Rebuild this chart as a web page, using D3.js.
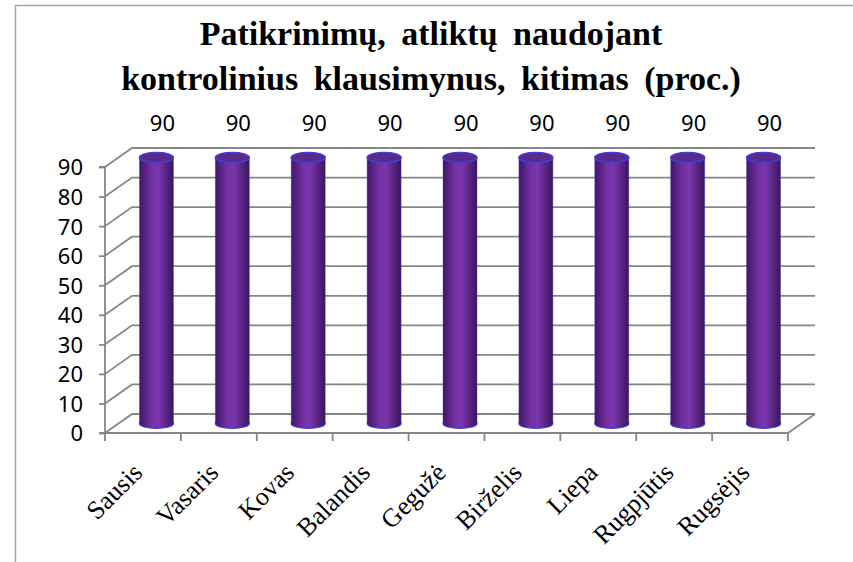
<!DOCTYPE html>
<html>
<head>
<meta charset="utf-8">
<script src="https://cdn.jsdelivr.net/npm/d3@7"></script>
<style>
  body { margin: 0; background: #fff; }
</style>
</head>
<body>
<div id="chart"></div>
<script>
// chart data
var months = ["Sausis", "Vasaris", "Kovas", "Balandis", "Gegužė", "Birželis", "Liepa", "Rugpjūtis", "Rugsėjis"];
var values = [90, 90, 90, 90, 90, 90, 90, 90, 90];
var yTicks = [0, 10, 20, 30, 40, 50, 60, 70, 80, 90];
var titleLines = ["Patikrinimų, atliktų naudojant", "kontrolinius klausimynus, kitimas (proc.)"];

var w = 853;
var h = 562;
var depthX = 27;   // 3d depth offset
var depthY = -19;
var gridColor = "#868686";

var svg = d3.select("#chart")
    .append("svg")
    .attr("width", w)
    .attr("height", h);

// outer frame (only left and top visible)
svg.append("path")
    .attr("d", "M15.5," + h + "V5.5H" + w)
    .attr("fill", "none")
    .attr("stroke", "#a6a6a6")
    .attr("stroke-width", 1.5);

// title
svg.append("g").selectAll("text")
    .data(titleLines)
    .enter()
    .append("text")
    .attr("x", 431)
    .attr("y", function (d, i) { return 45 + i * 45; })
    .attr("text-anchor", "middle")
    .attr("font-family", "'Liberation Serif', 'Times New Roman', serif")
    .attr("font-weight", "bold")
    .attr("font-size", "34px")
    .attr("word-spacing", "7px")
    .attr("fill", "#000")
    .text(function (d) { return d; });

// scales
var xScale = d3.scaleBand()
    .domain(months)
    .range([105, 788]);

var yScale = d3.scaleLinear()
    .domain([0, 90])
    .range([433, 167]);

var grid = svg.append("g");

// side wall diagonals + back wall lines
yTicks.forEach(function (t) {
    var y = yScale(t);
    grid.append("path")
        .attr("d", "M105," + y + "L" + (105 + depthX) + "," + (y + depthY) + "H" + (788 + depthX))
        .attr("fill", "none")
        .attr("stroke", gridColor)
        .attr("stroke-width", 1.8);
});

// floor right edge
grid.append("line")
    .attr("x1", 788).attr("y1", yScale(0))
    .attr("x2", 788 + depthX).attr("y2", yScale(0) + depthY)
    .attr("stroke", gridColor)
    .attr("stroke-width", 1.8);

// Y axis
var yAxis = d3.axisLeft(yScale)
    .tickValues(yTicks)
    .tickSize(6)
    .tickPadding(16);

var yAxisG = svg.append("g")
    .attr("transform", "translate(105,0)")
    .call(yAxis);
yAxisG.select(".domain").attr("stroke", gridColor).attr("stroke-width", 1.8)
    .attr("d", "M-6," + yScale(90) + "H0V" + yScale(0) + "H-6");
yAxisG.selectAll(".tick line").attr("stroke", gridColor).attr("stroke-width", 1.8);
yAxisG.selectAll(".tick text")
    .attr("font-family", "'Noto Sans', sans-serif")
    .attr("font-size", "22px")
    .attr("fill", "#000")
    .attr("dy", "0.36em");

// X axis
var xAxisG = svg.append("g")
    .attr("transform", "translate(0," + yScale(0) + ")");
xAxisG.append("line")
    .attr("x1", 105).attr("x2", 788)
    .attr("stroke", gridColor).attr("stroke-width", 1.8);
xAxisG.selectAll("line.tick")
    .data(d3.range(months.length + 1))
    .enter()
    .append("line")
    .attr("class", "tick")
    .attr("x1", function (i) { return 105 + i * xScale.step(); })
    .attr("x2", function (i) { return 105 + i * xScale.step(); })
    .attr("y1", 0).attr("y2", 8)
    .attr("stroke", gridColor).attr("stroke-width", 1.8);

xAxisG.selectAll("text")
    .data(months)
    .enter()
    .append("text")
    .attr("transform", function (d) {
        var x = xScale(d) + xScale.bandwidth() / 2 + 1;
        return "translate(" + x + ",41) rotate(-45)";
    })
    .attr("text-anchor", "end")
    .attr("font-family", "'Liberation Serif', 'Times New Roman', serif")
    .attr("font-size", "26px")
    .attr("fill", "#000")
    .text(function (d) { return d; });

// cylinder gradient
var defs = svg.append("defs");
var grad = defs.append("linearGradient")
    .attr("id", "cyl")
    .attr("x1", "0%").attr("x2", "100%")
    .attr("y1", "0%").attr("y2", "0%");
grad.append("stop").attr("offset", "0%").attr("stop-color", "#3e1866");
grad.append("stop").attr("offset", "35%").attr("stop-color", "#7330a4");
grad.append("stop").attr("offset", "55%").attr("stop-color", "#7a36ab");
grad.append("stop").attr("offset", "100%").attr("stop-color", "#3a165e");

var rx = 17;
var ry = 5;
var cx = function (d) { return xScale(d) + xScale.bandwidth() / 2 + depthX / 2; };
var midY = function (v) { return yScale(v) + depthY / 2; };

var bars = svg.append("g").selectAll("g")
    .data(months)
    .enter()
    .append("g");

// bottom ellipse
bars.append("ellipse")
    .attr("cx", cx)
    .attr("cy", midY(0))
    .attr("rx", rx)
    .attr("ry", ry)
    .attr("fill", "url(#cyl)")
    .attr("stroke", "#3b3bd8")
    .attr("stroke-width", 1.2);

// body
bars.append("rect")
    .attr("x", function (d) { return cx(d) - rx; })
    .attr("y", function (d, i) { return midY(values[i]); })
    .attr("width", rx * 2)
    .attr("height", function (d, i) { return midY(0) - midY(values[i]); })
    .attr("fill", "url(#cyl)");

// side outlines
bars.append("path")
    .attr("d", function (d, i) {
        var x = cx(d);
        return "M" + (x - rx) + "," + midY(values[i]) + "V" + midY(0) +
            "M" + (x + rx) + "," + midY(values[i]) + "V" + midY(0);
    })
    .attr("stroke", "#4a3ac0")
    .attr("stroke-opacity", 0.5)
    .attr("stroke-width", 0.8);

// top ellipse
bars.append("ellipse")
    .attr("cx", cx)
    .attr("cy", function (d, i) { return midY(values[i]); })
    .attr("rx", rx)
    .attr("ry", ry)
    .attr("fill", "#5a2a8a")
    .attr("stroke", "#3d3ee0")
    .attr("stroke-width", 1.5);

// data labels
svg.append("g").selectAll("text")
    .data(months)
    .enter()
    .append("text")
    .attr("x", function (d) { return cx(d) + 6; })
    .attr("y", function (d, i) { return midY(values[i]) - 27; })
    .attr("text-anchor", "middle")
    .attr("font-family", "'Noto Sans', sans-serif")
    .attr("font-size", "22px")
    .attr("fill", "#000")
    .text(function (d, i) { return values[i]; });
</script>
</body>
</html>
